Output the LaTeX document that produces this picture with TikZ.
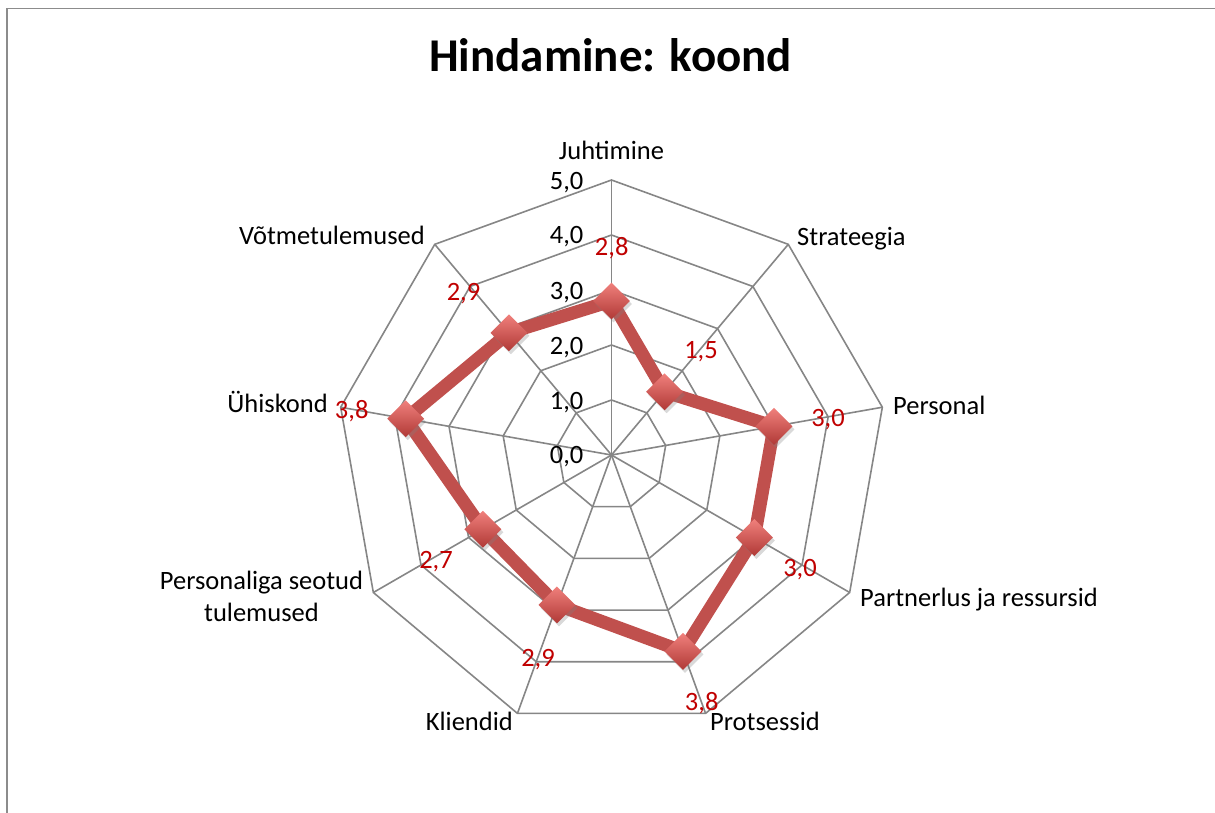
\documentclass[tikz,border=0pt]{standalone}
\usepackage{fontspec}
\setmainfont{Carlito}
\usetikzlibrary{shapes.geometric,shadows}
\definecolor{gridgray}{HTML}{868686}
\definecolor{framegray}{HTML}{8C8C8C}
\definecolor{seriesred}{HTML}{C0504D}
\definecolor{lblred}{HTML}{C00000}
\definecolor{mkLight}{HTML}{F0807C}
\definecolor{mkDark}{HTML}{B03936}
\begin{document}
\begin{tikzpicture}[x=1pt,y=-1pt,
  gridline/.style={draw=gridgray, line width=1.6pt, line join=miter},
  catlabel/.style={font=\fontsize{26.5}{32}\selectfont, inner sep=0pt, text=black},
  scalelabel/.style={font=\fontsize{26.5}{32}\selectfont, inner sep=0pt, anchor=base east},
  datalabel/.style={font=\fontsize{26.5}{32}\selectfont, inner sep=0pt, anchor=base, text=lblred},
  seriesline/.style={draw=seriesred, line width=13pt, line join=round},
  marker/.style={diamond, minimum width=37pt, minimum height=37pt, inner sep=0pt,
    top color=mkLight, bottom color=mkDark, draw=none,
    drop shadow={opacity=0.3, shadow xshift=2pt, shadow yshift=-3pt}}
]
\useasboundingbox (0,0) rectangle (1215,813);
\draw[draw=framegray, line width=1.8pt] (7,8.5) rectangle (1240,840);

% axes geometry
\coordinate (c) at (611.5,455);
\foreach \i/\a in {1/90,2/50,3/10,4/-30,5/-70,6/-110,7/-150,8/170,9/130}{
  \foreach \k in {1,...,5}{
    \coordinate (r\k-\i) at ({611.5+55*\k*cos(\a)},{455-55*\k*sin(\a)});
  }
}
\foreach \k in {1,...,5}{
  \draw[gridline] (r\k-1) -- (r\k-2) -- (r\k-3) -- (r\k-4) -- (r\k-5) -- (r\k-6) -- (r\k-7) -- (r\k-8) -- (r\k-9) -- cycle;
}
\foreach \i in {1,...,9}{
  \draw[gridline] (c) -- (r5-\i);
}

% scale labels
\node[scalelabel] (s5) at (583.5,189.5) {5,0};
\node[scalelabel] (s4) at (583.5,243.5) {4,0};
\node[scalelabel] (s3) at (583.5,299.3) {3,0};
\node[scalelabel] (s2) at (583.5,354.3) {2,0};
\node[scalelabel] (s1) at (583.5,409.5) {1,0};
\node[scalelabel] (s0) at (583.5,463.5) {0,0};

% data series
\foreach \i/\a/\v in {1/90/2.8, 2/50/1.5, 3/10/3.0, 4/-30/3.0, 5/-70/3.8, 6/-110/2.9, 7/-150/2.7, 8/170/3.8, 9/130/2.9}{
  \coordinate (p\i) at ({611.5+55*\v*cos(\a)},{455-55*\v*sin(\a)});
}
\draw[seriesline] (p1) -- (p2) -- (p3) -- (p4) -- (p5) -- (p6) -- (p7) -- (p8) -- (p9) -- cycle;
\foreach \i in {1,...,9}{
  \node[marker] (m\i) at (p\i) {};
}

% data labels
\node[datalabel] (d1) at (611.7,255) {2,8};
\node[datalabel] (d2) at (701,358.3) {1,5};
\node[datalabel] (d3) at (828,426) {3,0};
\node[datalabel] (d4) at (800,576) {3,0};
\node[datalabel] (d5) at (701.7,710.7) {3,8};
\node[datalabel] (d6) at (538,666.7) {2,9};
\node[datalabel] (d7) at (436,568) {2,7};
\node[datalabel] (d8) at (351.7,418.3) {3,8};
\node[datalabel] (d9) at (463.5,300) {2,9};

% category labels
\node[catlabel, anchor=base] (l1) at (611.5,160) {Juhtimine};
\node[catlabel, anchor=base west] (l2) at (797,245) {Strateegia};
\node[catlabel, anchor=base west] (l3) at (893,414) {Personal};
\node[catlabel, anchor=base west] (l4) at (860,606) {Partnerlus ja ressursid};
\node[catlabel, anchor=base west] (l5) at (710,730) {Protsessid};
\node[catlabel, anchor=base east] (l6) at (513,730) {Kliendid};
\node[catlabel, anchor=base] (l7a) at (261.5,589.3) {Personaliga seotud};
\node[catlabel, anchor=base] (l7b) at (261.5,621.7) {tulemused};
\node[catlabel, anchor=base east] (l8) at (328,412.7) {Ühiskond};
\node[catlabel, anchor=base east] (l9) at (425,244) {Võtmetulemused};

% title
\node[font=\fontsize{47}{56}\selectfont\bfseries, inner sep=0pt, anchor=base] (title) at (610.5,72) {Hindamine: koond};
\end{tikzpicture}
\end{document}
